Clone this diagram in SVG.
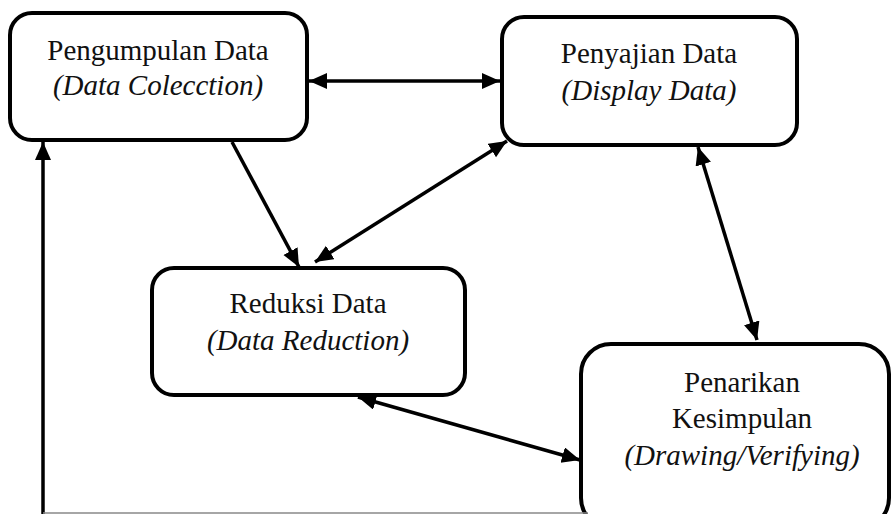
<svg xmlns="http://www.w3.org/2000/svg" width="892" height="514" viewBox="0 0 892 514">
<style>
.box{fill:#fff;stroke:#000;stroke-width:4}
.t{font-family:'Liberation Serif','Times New Roman',serif;font-size:29px;fill:#111;text-anchor:middle}
.i{font-style:italic}
.c{stroke:#000;stroke-width:3.5;fill:none}
</style>
<defs>
<marker id="ah" markerUnits="userSpaceOnUse" markerWidth="19" markerHeight="17" refX="18" refY="8" orient="auto-start-reverse" viewBox="0 0 19 17">
<path d="M0,0 L18,8 L0,16 z" fill="#000"/>
</marker>
</defs>
<rect width="892" height="514" fill="#fff"/>
<g id="n1"><rect class="box" x="10" y="13" width="297" height="127" rx="22"/>
<text class="t" x="158" y="60">Pengumpulan Data</text>
<text class="t i" x="158" y="95">(Data Colecction)</text></g>
<g id="n2"><rect class="box" x="502" y="17" width="295" height="128" rx="22"/>
<text class="t" x="649" y="63">Penyajian Data</text>
<text class="t i" x="649" y="100">(Display Data)</text></g>
<g id="n3"><rect class="box" x="152" y="268" width="313" height="127" rx="22"/>
<text class="t" x="308" y="313">Reduksi Data</text>
<text class="t i" x="308" y="350">(Data Reduction)</text></g>
<g id="n4"><rect class="box" x="581" y="344" width="308" height="184" rx="30"/>
<text class="t" x="742" y="392">Penarikan</text>
<text class="t" x="742" y="428">Kesimpulan</text>
<text class="t i" x="742" y="465">(Drawing/Verifying)</text></g>
<g id="connectors">
<line class="c" x1="309" y1="81" x2="500" y2="81" marker-start="url(#ah)" marker-end="url(#ah)"/>
<line class="c" x1="232" y1="142" x2="299" y2="267" marker-end="url(#ah)"/>
<line class="c" x1="507" y1="141" x2="315" y2="262" marker-start="url(#ah)" marker-end="url(#ah)"/>
<line class="c" x1="698" y1="147" x2="757" y2="340" marker-start="url(#ah)" marker-end="url(#ah)"/>
<line class="c" x1="358" y1="397" x2="580" y2="460" marker-start="url(#ah)" marker-end="url(#ah)"/>
<line class="c" x1="43" y1="514" x2="43" y2="142" marker-end="url(#ah)"/>
<line x1="43" y1="513" x2="588" y2="513" stroke="#888" stroke-width="1.5"/>
</g>
</svg>
